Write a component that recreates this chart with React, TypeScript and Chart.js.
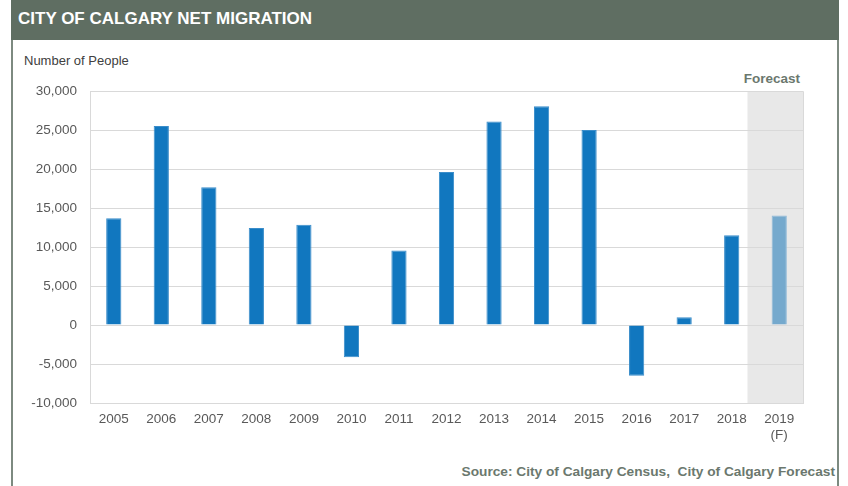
import React, { useEffect, useRef } from "react";
import { Chart, registerables } from "chart.js";

Chart.register(...registerables);

const years: string[][] = [
  ["2005"], ["2006"], ["2007"], ["2008"], ["2009"], ["2010"], ["2011"], ["2012"],
  ["2013"], ["2014"], ["2015"], ["2016"], ["2017"], ["2018"], ["2019", "(F)"],
];
const netMigration: number[] = [
  13700, 25500, 17650, 12450, 12850, -4150, 9550, 19600,
  26100, 28050, 25000, -6500, 1000, 11500, 14050,
];
const forecastIndex = 14;
const yMin = -10000;
const yMax = 30000;
const yStep = 5000;

const FONT = "'Liberation Sans', Arial, sans-serif";

const frameBg = "#5f6e62";

export default function App() {
  const canvasRef = useRef<HTMLCanvasElement | null>(null);

  useEffect(() => {
    document.body.style.margin = "0";
    const ctx = canvasRef.current!;
    const shadePlugin = {
      id: "forecastShade",
      beforeDraw(chart: any) {
        const { ctx, chartArea } = chart;
        const x = chart.scales.x;
        const mid = (x.getPixelForValue(forecastIndex - 1) + x.getPixelForValue(forecastIndex)) / 2;
        ctx.save();
        ctx.fillStyle = "#e8e8e8";
        ctx.fillRect(mid - 8, chartArea.top, chartArea.right - (mid - 8), chartArea.bottom - chartArea.top);
        ctx.restore();
      },
      afterDraw(chart: any) {
        const { ctx, chartArea } = chart;
        ctx.save();
        ctx.strokeStyle = "#d9d9d9";
        ctx.lineWidth = 1;
        ctx.beginPath();
        ctx.moveTo(chartArea.left, chartArea.top + 0.5);
        ctx.lineTo(chartArea.right + 0.5, chartArea.top + 0.5);
        ctx.lineTo(chartArea.right + 0.5, chartArea.bottom);
        ctx.stroke();
        ctx.restore();
      },
    };
    const chart = new Chart(ctx, {
      type: "bar",
      data: {
        labels: years,
        datasets: [
          {
            data: netMigration,
            backgroundColor: netMigration.map((_, i) => (i === forecastIndex ? "#75a9cd" : "#1177bf")),
            borderColor: netMigration.map((_, i) => (i === forecastIndex ? "#8fb9d8" : "#3a8dca")),
            borderWidth: 1,
            categoryPercentage: 1,
            barPercentage: 0.32,
          },
        ],
      },
      options: {
        animation: false,
        responsive: false,
        maintainAspectRatio: false,
        layout: { padding: { left: 20, top: 91, right: 45, bottom: 33 } },
        plugins: { legend: { display: false }, tooltip: { enabled: false } },
        scales: {
          x: {
            grid: { display: false, drawTicks: false },
            border: { display: true, color: "#d9d9d9", width: 1 },
            ticks: {
              color: "#595959",
              font: { family: FONT, size: 13.5 },
              padding: 8,
              maxRotation: 0,
              autoSkip: false,
            },
            afterFit(scale: any) {
              scale.height = 50;
            },
          },
          y: {
            min: yMin,
            max: yMax,
            grid: { color: "#d9d9d9", drawTicks: false },
            border: { display: true, color: "#d9d9d9", width: 1 },
            ticks: {
              stepSize: yStep,
              color: "#595959",
              font: { family: FONT, size: 13.5 },
              padding: 13,
              callback: (v: any) => Number(v).toLocaleString("en-US"),
            },
            afterFit(scale: any) {
              scale.width = 70;
            },
          },
        },
      },
      plugins: [shadePlugin],
    });
    return () => chart.destroy();
  }, []);

  return (
    <div style={{ position: "absolute", left: 0, top: 0, width: 848, height: 486, background: "#fff", overflow: "hidden", fontFamily: FONT }}>
      <div style={{ position: "absolute", left: 11, top: 0, width: 828, height: 40, background: frameBg }} />
      <div style={{ position: "absolute", left: 11, top: 40, width: 1.5, height: 446, background: "#7d8a80" }} />
      <div style={{ position: "absolute", left: 837, top: 40, width: 1.5, height: 446, background: "#7d8a80" }} />
      <div style={{ position: "absolute", left: 18, top: 9, color: "#fff", fontWeight: "bold", fontSize: 17, lineHeight: "20px", whiteSpace: "nowrap" }}>
        CITY OF CALGARY NET MIGRATION
      </div>
      <div style={{ position: "absolute", left: 24, top: 53, color: "#404040", fontSize: 13, lineHeight: "16px", whiteSpace: "nowrap" }}>
        Number of People
      </div>
      <div style={{ position: "absolute", right: 48, top: 71, color: "#6b786e", fontWeight: "bold", fontSize: 13.5, lineHeight: "16px", whiteSpace: "nowrap" }}>
        Forecast
      </div>
      <div style={{ position: "absolute", right: 13, top: 464, color: "#6b786e", fontWeight: "bold", fontSize: 13.7, lineHeight: "16px", whiteSpace: "pre" }}>
        {"Source: City of Calgary Census,  City of Calgary Forecast"}
      </div>
      <canvas ref={canvasRef} width={848} height={486} style={{ position: "absolute", left: 0, top: 0, width: 848, height: 486 }} />
    </div>
  );
}
